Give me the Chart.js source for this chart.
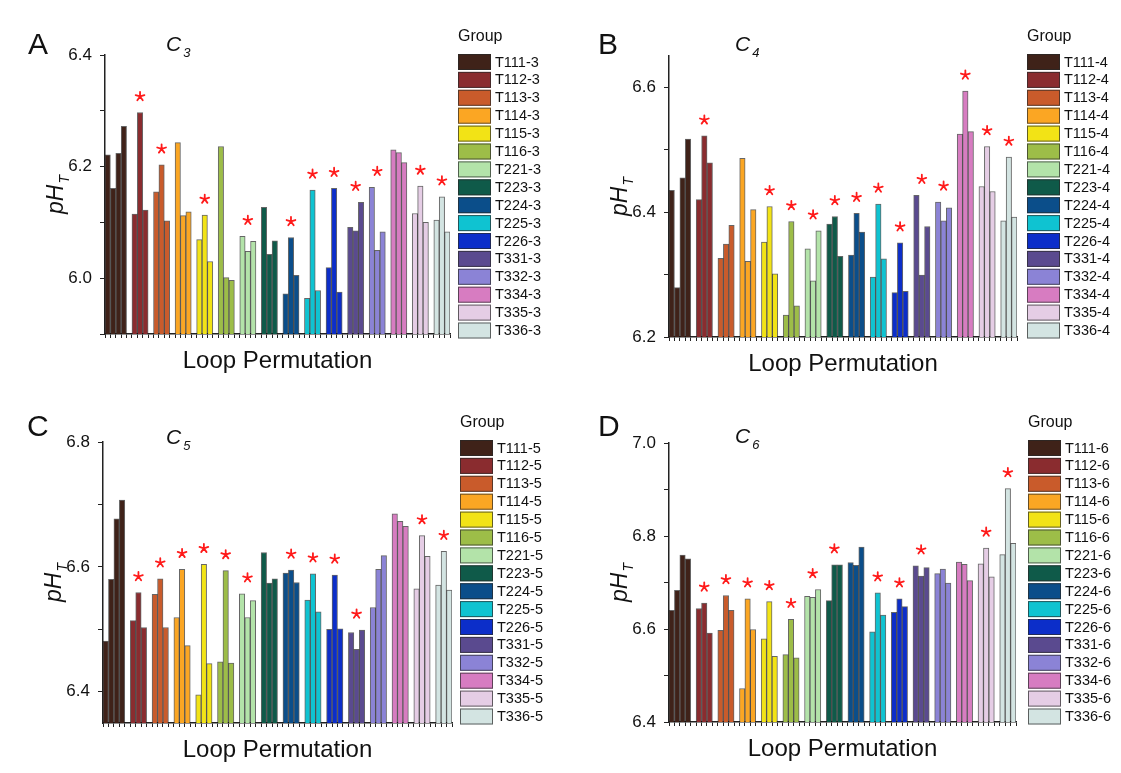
<!DOCTYPE html>
<html><head><meta charset="utf-8">
<script src="https://cdn.jsdelivr.net/npm/chart.js@4.4.1/dist/chart.umd.min.js"></script>
<style>
html,body{margin:0;padding:0;background:#fff;}
#wrap{position:relative;width:1121px;height:773px;overflow:hidden;background:#fff;}
#wrap canvas{position:absolute;left:0;top:0;}
</style></head><body><div id="wrap">
<canvas id="cA" width="1121" height="773"></canvas>
<canvas id="cB" width="1121" height="773"></canvas>
<canvas id="cC" width="1121" height="773"></canvas>
<canvas id="cD" width="1121" height="773"></canvas>
</div>
<script>
const FONT = "Arial, 'Liberation Sans', sans-serif";
const groupNames = ['T111','T112','T113','T114','T115','T116','T221','T223','T224','T225','T226','T331','T332','T334','T335','T336'];
const groupColors = ['#3f2219','#8a2c2f','#c95b2b','#fba623','#f2e316','#9dbd48','#b3e3a9','#0f5a49','#0b4e8a','#0fc3d1','#0c2ec9','#5a4a8f','#8b83d6','#d77cc1','#e5cde5','#d3e4e2'];

const valuesC3 = [[6.221,6.161,6.224,6.272],[6.115,6.297,6.122],[6.155,6.203,6.103],[6.243,6.112,6.119],[6.069,6.113,6.030],[6.236,6.001,5.996],[6.075,6.048,6.066],[6.127,6.043,6.067],[5.972,6.073,6.005],[5.964,6.158,5.978],[6.019,6.161,5.975],[6.091,6.085,6.136],[6.163,6.050,6.083],[6.230,6.225,6.207],[6.116,6.165,6.100],[6.104,6.146,6.083]];
const starsC3 = [0,1,1,0,1,0,1,0,1,1,1,1,1,0,1,1];

const valuesC4 = [[6.435,6.279,6.455,6.517],[6.420,6.522,6.479],[6.326,6.349,6.379],[6.486,6.321,6.404],[6.352,6.409,6.301],[6.235,6.385,6.250],[6.341,6.290,6.370],[6.381,6.393,6.329],[6.331,6.398,6.368],[6.296,6.413,6.325],[6.271,6.351,6.273],[6.427,6.299,6.377],[6.416,6.386,6.407],[6.525,6.594,6.529],[6.441,6.505,6.433],[6.386,6.488,6.392]];
const starsC4 = [0,1,0,0,1,1,1,1,1,1,1,1,1,1,1,1];

const valuesC5 = [[6.481,6.580,6.677,6.707],[6.514,6.559,6.503],[6.556,6.581,6.503],[6.519,6.596,6.474],[6.395,6.604,6.445],[6.448,6.594,6.446],[6.557,6.519,6.546],[6.623,6.574,6.581],[6.590,6.595,6.575],[6.547,6.589,6.528],[6.500,6.587,6.501],[6.495,6.468,6.499],[6.535,6.596,6.618],[6.685,6.673,6.665],[6.565,6.650,6.617],[6.571,6.625,6.563]];
const starsC5 = [0,1,1,1,1,1,1,0,1,1,1,1,0,0,1,1];

const valuesC6 = [[6.640,6.683,6.759,6.751],[6.644,6.656,6.591],[6.597,6.672,6.640],[6.472,6.665,6.599],[6.579,6.659,6.541],[6.545,6.621,6.538],[6.670,6.668,6.685],[6.661,6.738,6.738],[6.743,6.737,6.776],[6.594,6.678,6.630],[6.636,6.665,6.648],[6.736,6.714,6.732],[6.719,6.729,6.699],[6.744,6.739,6.704],[6.740,6.774,6.712],[6.760,6.902,6.784]];
const starsC6 = [0,1,1,1,1,1,1,1,0,1,1,1,0,0,1,1];

const yRangeC3 = [5.9, 6.4];
const yRangeC4 = [6.2, 6.65];
const yRangeC5 = [6.35, 6.8];
const yRangeC6 = [6.4, 7.0];

const xTitle = 'Loop Permutation';
const legendTitle = 'Group';

// slot index of first bar of each group: T111 uses 4 slots + gap, others 3 + gap
function slotStart(g){ return g === 0 ? 0 : 5 + (g - 1) * 4; }
const NSLOTS = 64;
const slotLabels = Array.from({length: NSLOTS}, () => '');

const panels = [
  {id:'cA', letter:'A', n:'3', suffix:'-3', values:valuesC3, stars:starsC3, yr:yRangeC3,
   area:{left:105,right:450,top:55,bottom:334}, letterPos:[28,54], titlePos:[166,51], legend:[458,54]},
  {id:'cB', letter:'B', n:'4', suffix:'-4', values:valuesC4, stars:starsC4, yr:yRangeC4,
   area:{left:669,right:1017,top:56,bottom:337}, letterPos:[598,54], titlePos:[735,51], legend:[1027,54]},
  {id:'cC', letter:'C', n:'5', suffix:'-5', values:valuesC5, stars:starsC5, yr:yRangeC5,
   area:{left:103,right:452,top:442,bottom:723}, letterPos:[27,436], titlePos:[166,444], legend:[460,440]},
  {id:'cD', letter:'D', n:'6', suffix:'-6', values:valuesC6, stars:starsC6, yr:yRangeC6,
   area:{left:669,right:1016,top:443,bottom:722}, letterPos:[598,436], titlePos:[735,443], legend:[1028,440]}
];

function drawStar(ctx, cx, cy, R){
  ctx.save();
  ctx.strokeStyle = '#ff1a1a';
  ctx.lineWidth = 1.8;
  ctx.lineCap = 'round';
  ctx.beginPath();
  for (let k = 0; k < 5; k++){
    const a = -Math.PI/2 + k * 2*Math.PI/5;
    ctx.moveTo(cx, cy);
    ctx.lineTo(cx + R*Math.cos(a), cy + R*Math.sin(a));
  }
  ctx.stroke();
  ctx.restore();
}

const decoPlugin = {
  id: 'panelDeco',
  afterDatasetsDraw(chart, args, p){
    const ctx = chart.ctx, xs = chart.scales.x, ys = chart.scales.y;
    p.values.forEach((vals, g) => {
      if (!p.stars[g]) return;
      const cx = xs.getPixelForValue(slotStart(g) + 1);
      const cy = ys.getPixelForValue(Math.max(...vals)) - 16;
      drawStar(ctx, cx, cy, 4.6);
    });
  },
  afterDraw(chart, args, p){
    const ctx = chart.ctx, ca = chart.chartArea;
    ctx.save();
    ctx.fillStyle = '#111';
    ctx.font = '30px ' + FONT;
    ctx.textAlign = 'left'; ctx.textBaseline = 'alphabetic';
    ctx.fillText(p.letter, p.letterPos[0], p.letterPos[1]);
    ctx.font = 'italic 21px ' + FONT;
    ctx.fillText('C', p.titlePos[0], p.titlePos[1]);
    const cw = ctx.measureText('C').width;
    ctx.font = 'italic 13px ' + FONT;
    ctx.fillText(p.n, p.titlePos[0] + cw + 2, p.titlePos[1] + 6);
    ctx.save();
    const ty = (ca.top + ca.bottom) / 2;
    ctx.translate(ca.left - 42, ty);
    ctx.rotate(-Math.PI/2);
    ctx.font = 'italic 23px ' + FONT;
    const w1 = ctx.measureText('pH').width;
    ctx.font = 'italic 14px ' + FONT;
    const w2 = ctx.measureText('T').width;
    const start = -(w1 + w2 + 1) / 2;
    ctx.font = 'italic 23px ' + FONT;
    ctx.fillText('pH', start, 0);
    ctx.font = 'italic 14px ' + FONT;
    ctx.fillText('T', start + w1 + 1, 6);
    ctx.restore();
    ctx.font = '24px ' + FONT;
    ctx.textAlign = 'center'; ctx.textBaseline = 'middle';
    ctx.fillText(xTitle, (ca.left + ca.right) / 2, ca.bottom + 27);
    const lx = p.legend[0], ly = p.legend[1];
    ctx.textAlign = 'left'; ctx.textBaseline = 'middle';
    ctx.font = '16px ' + FONT;
    ctx.fillText(legendTitle, lx, ly - 17);
    ctx.font = '14.5px ' + FONT;
    chart.data.datasets.forEach((ds, i) => {
      const y = ly + i * 17.9;
      ctx.fillStyle = ds.backgroundColor;
      ctx.fillRect(lx, y, 33, 16);
      ctx.strokeStyle = 'rgba(40,40,40,0.7)';
      ctx.lineWidth = 1;
      ctx.strokeRect(lx + 0.5, y + 0.5, 32, 15);
      ctx.fillStyle = '#111';
      ctx.fillText(ds.label, lx + 37, y + 8.5);
    });
    ctx.restore();
  }
};

panels.forEach(p => {
  const datasets = groupNames.map((name, g) => {
    const data = new Array(NSLOTS).fill(null);
    p.values[g].forEach((v, k) => { data[slotStart(g) + k] = v; });
    return {
      label: name + p.suffix,
      data,
      backgroundColor: groupColors[g],
      borderColor: 'rgba(20,20,20,0.65)',
      borderWidth: 1,
      borderSkipped: 'start',
      grouped: false,
      categoryPercentage: 1,
      barPercentage: 1
    };
  });
  new Chart(document.getElementById(p.id), {
    type: 'bar',
    data: { labels: slotLabels, datasets },
    options: {
      responsive: false, animation: false, devicePixelRatio: 1,
      layout: { padding: { left: 0, top: p.area.top, right: 1121 - p.area.right, bottom: 0 } },
      plugins: { legend: { display: false }, tooltip: { enabled: false }, panelDeco: p },
      scales: {
        x: {
          type: 'category', offset: true,
          grid: { drawOnChartArea: false, drawTicks: true, tickLength: 4, color: '#222', offset: true },
          border: { display: true, color: '#222', width: 1.5 },
          ticks: { autoSkip: false, maxRotation: 0, padding: 0, callback: () => '' },
          afterFit: s => { s.height = 773 - p.area.bottom; }
        },
        y: {
          min: p.yr[0], max: p.yr[1],
          grid: { drawOnChartArea: false, drawTicks: true, tickLength: 5, color: '#222' },
          border: { display: true, color: '#222', width: 1.5 },
          afterBuildTicks: s => {
            s.ticks = s.ticks
              .filter(t => Math.abs(t.value * 10 - Math.round(t.value * 10)) < 1e-6)
              .map(t => ({ value: Math.round(t.value * 10) / 10 }));
          },
          ticks: {
            stepSize: 0.1, color: '#111', padding: 8,
            font: { size: 17, family: FONT },
            callback: v => (Math.round(v * 10) % 2 === 0 ? v.toFixed(1) : '')
          },
          afterFit: s => { s.width = p.area.left; }
        }
      }
    },
    plugins: [decoPlugin]
  });
});
</script>
</body></html>
